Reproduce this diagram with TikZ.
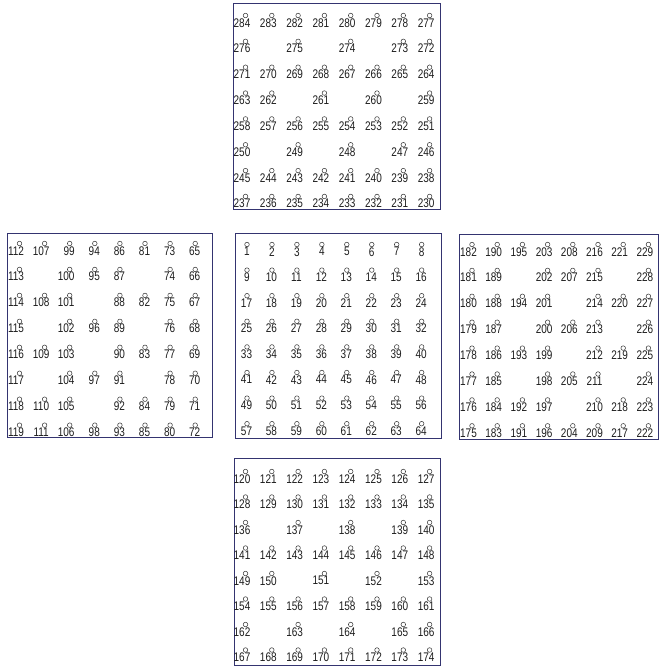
\documentclass[tikz,border=0pt]{standalone}
\usepackage{fontspec}
\newfontfamily\numfont[FakeStretch=0.8]{Liberation Sans}
\definecolor{frameblue}{RGB}{52,52,112}
\definecolor{ink}{RGB}{28,28,28}
\tikzset{
  boxframe/.style={draw=frameblue, line width=0.8pt},
  num/.style={inner sep=0pt, text=ink, font=\numfont\fontsize{12.5}{12.5}\selectfont, anchor=north},
  pin/.style={circle, draw=ink!85, line width=0.55pt, minimum size=4.6pt, inner sep=0pt},
}
\newcommand\cellat[3]{%
  \ifnum#3>99 \def\off{3.5}\else\ifnum#3>9 \def\off{0.5}\else\def\off{0}\fi\fi
  \node[num] (t#3) at (#1-\off,#2+2.6) {#3};
  \node[pin] (c#3) at (#1,#2) {};
}
\newcommand\numgrid[5]{%
  \foreach \row [count=\j from 0] in {#5} {
    \foreach \n [count=\i from 0] in \row {
      \ifnum\n>0
        \pgfmathsetmacro\cx{#1+#2*\i}
        \pgfmathsetmacro\cy{#3+#4*\j}
        \cellat{\cx}{\cy}{\n}
      \fi
    }
  }}
\begin{document}
\begin{tikzpicture}[x=1pt,y=-1pt]
\useasboundingbox (0,0) rectangle (664,668);
% frames
\draw[boxframe] (233,3) rectangle (440,209);
\draw[boxframe] (7,233) rectangle (212,437);
\draw[boxframe] (235,233) rectangle (441,438);
\draw[boxframe] (459,234) rectangle (658,439);
\draw[boxframe] (234,458) rectangle (440,665);
% top
\numgrid{245.5}{26.3}{15.5}{25.85}{%
 {284,283,282,281,280,279,278,277},
 {276,0,275,0,274,0,273,272},
 {271,270,269,268,267,266,265,264},
 {263,262,0,261,0,260,0,259},
 {258,257,256,255,254,253,252,251},
 {250,0,249,0,248,0,247,246},
 {245,244,243,242,241,240,239,238},
 {237,236,235,234,233,232,231,230}}
% center
\numgrid{247}{24.95}{244.5}{25.6}{%
 {1,2,3,4,5,6,7,8},
 {9,10,11,12,13,14,15,16},
 {17,18,19,20,21,22,23,24},
 {25,26,27,28,29,30,31,32},
 {33,34,35,36,37,38,39,40},
 {41,42,43,44,45,46,47,48},
 {49,50,51,52,53,54,55,56},
 {57,58,59,60,61,62,63,64}}
% left
\numgrid{19.5}{25.1}{243.5}{25.95}{%
 {112,107,99,94,86,81,73,65},
 {113,0,100,95,87,0,74,66},
 {114,108,101,0,88,82,75,67},
 {115,0,102,96,89,0,76,68},
 {116,109,103,0,90,83,77,69},
 {117,0,104,97,91,0,78,70},
 {118,110,105,0,92,84,79,71},
 {119,111,106,98,93,85,80,72}}
% right
\numgrid{472}{25.2}{244.5}{25.9}{%
 {182,190,195,203,208,216,221,229},
 {181,189,0,202,207,215,0,228},
 {180,188,194,201,0,214,220,227},
 {179,187,0,200,206,213,0,226},
 {178,186,193,199,0,212,219,225},
 {177,185,0,198,205,211,0,224},
 {176,184,192,197,0,210,218,223},
 {175,183,191,196,204,209,217,222}}
% bottom
\numgrid{245.5}{26.3}{471.5}{25.5}{%
 {120,121,122,123,124,125,126,127},
 {128,129,130,131,132,133,134,135},
 {136,0,137,0,138,0,139,140},
 {141,142,143,144,145,146,147,148},
 {149,150,0,151,0,152,0,153},
 {154,155,156,157,158,159,160,161},
 {162,0,163,0,164,0,165,166},
 {167,168,169,170,171,172,173,174}}
\end{tikzpicture}
\end{document}
